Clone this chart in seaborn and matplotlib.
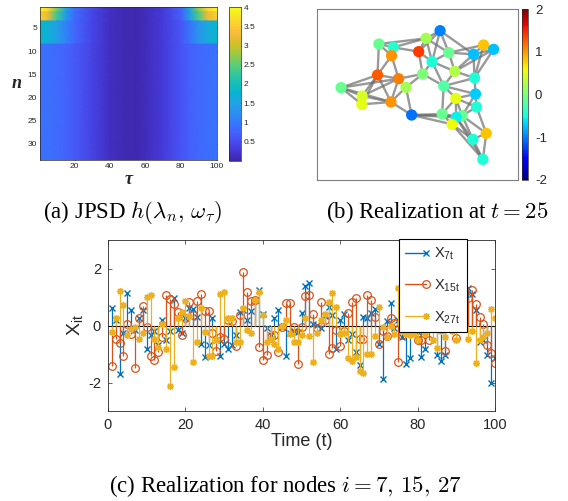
import numpy as np
import matplotlib
matplotlib.use('Agg')
import matplotlib.pyplot as plt
from matplotlib.colors import LinearSegmentedColormap, Normalize
from matplotlib.lines import Line2D
from matplotlib.legend_handler import HandlerLine2D
import seaborn as sns

sns.set_theme(style='ticks')
plt.rcParams['font.family'] = ['Liberation Sans', 'DejaVu Sans']
plt.rcParams['mathtext.fontset'] = 'custom'
plt.rcParams['mathtext.rm'] = 'Liberation Sans'
plt.rcParams['mathtext.it'] = 'Liberation Sans:italic'
plt.rcParams['axes.unicode_minus'] = False

# ---- (a) JPSD h(lambda_n, omega_tau): tau profiles per band of rows ----
tau_knots = [0.5, 5, 10, 15, 20, 30, 40, 50, 55, 60, 70, 80, 85, 90, 95, 100.5]
row_1 = [3.95, 3.6, 2.6, 1.5, 0.9, 0.45, 0.15, 0.05, 0.05, 0.12, 0.3, 0.75, 1.6, 2.7, 3.6, 3.95]
rows_2_3 = [3.5, 3.2, 2.3, 1.4, 0.85, 0.43, 0.15, 0.05, 0.05, 0.12, 0.3, 0.7, 1.45, 2.4, 3.2, 3.5]
rows_4_8 = [1.8, 1.7, 1.45, 1.1, 0.8, 0.42, 0.15, 0.05, 0.05, 0.12, 0.3, 0.62, 0.95, 1.3, 1.6, 1.8]
rows_9_33 = [0.92, 0.9, 0.85, 0.78, 0.66, 0.4, 0.15, 0.05, 0.05, 0.12, 0.3, 0.58, 0.72, 0.82, 0.88, 0.92]
band_counts = [1, 2, 5, 25]
cbar_a_ticks = [0.5, 1, 1.5, 2, 2.5, 3, 3.5, 4]

# ---- (b) graph realization at t = 25 ----
node_x = [450, 408, 267, 310, 386, 476, 580, 610, 550, 305, 426, 494, 263, 326, 398, 553, 154,
          348, 461, 217, 556, 497, 216, 303, 559, 365, 456, 516, 498, 486, 588, 548, 578]
node_y = [92, 115, 132, 142, 155, 158, 135, 148, 163, 167, 185, 214, 225, 236, 222, 234, 263,
          262, 258, 288, 282, 295, 313, 306, 321, 345, 342, 347, 352, 373, 400, 418, 478]
node_val = [-1.0, 0.2, -0.1, -0.4, 1.4, -0.1, 0.8, -0.75, -0.75, 1.0, -0.45, 0.25, 1.25, 1.1,
            0.0, -0.45, -0.1, 0.2, -0.2, 0.45, -0.7, 0.5, 0.5, 1.0, -0.45, -1.05, -0.1, -0.1,
            -0.55, 0.55, 0.8, -0.45, -0.45]
edges = [(1, 2), (1, 6), (1, 9), (1, 11), (1, 5), (2, 5), (2, 3), (2, 4), (2, 6), (2, 11),
         (3, 4), (3, 10), (3, 13), (4, 10), (4, 5), (5, 11), (5, 15), (6, 9), (6, 7), (6, 11),
         (6, 12), (7, 8), (7, 9), (7, 16), (8, 9), (8, 16), (8, 12), (9, 12), (9, 16), (10, 13),
         (10, 14), (11, 12), (11, 15), (11, 19), (12, 16), (12, 19), (13, 14), (13, 17), (13, 20),
         (13, 23), (13, 24), (14, 18), (14, 15), (14, 24), (14, 20), (14, 17), (15, 18), (15, 19),
         (16, 21), (16, 19), (17, 20), (17, 23), (17, 24), (18, 24), (18, 26), (19, 21), (19, 22),
         (19, 27), (20, 23), (20, 24), (21, 22), (21, 25), (21, 28), (22, 25), (22, 27), (22, 28),
         (22, 29), (23, 24), (24, 26), (26, 27), (26, 29), (26, 30), (26, 28), (27, 29), (27, 30),
         (28, 29), (28, 31), (28, 32), (25, 31), (25, 28), (29, 30), (29, 32), (29, 33), (30, 32),
         (30, 33), (31, 32), (31, 33), (32, 33)]

# ---- (c) realizations for nodes 7, 15, 27 ----
x7 = [0.62, 0.19, -1.69, -0.26, 1.13, 0.53, -0.16, 0.25, 0.54, -0.81,
      -0.34, -0.19, -0.7, 0.19, -0.52, -0.19, 0.95, -0.16, -0.28, 0.28,
      0.6, 0.58, 0.3, -0.64, -1.1, -0.7, 0.28, -0.52, -1.08, -0.66,
      -0.81, -0.7, -0.35, 0.48, 0.54, 0.21, 0.52, 0.89, 1.24, 0.4,
      -0.1, -0.32, 0.26, 0.56, -0.05, -1.06, -0.25, -0.2, -0.22, 0.45,
      1.37, 1.48, 0.06, 0.02, -0.1, 0.35, 0.66, 0.36, -0.81, 0.21,
      0.42, -0.5, -0.3, -0.93, -1.4, 0.3, 0.28, 0.45, 0.58, -0.64,
      -1.89, 0.15, 0.8, -0.1, 0.2, -0.4, -1.36, -1.14, 0.3, -0.22,
      -1.1, -0.81, 0.4, 0.5, -1.05, -1.26, -1.05, 0.3, 0.5, 0.2,
      0.6, 0.8, 1.3, 1.1, 0.56, -0.58, -0.5, -1.05, -2.01, -1.14]
x15 = [-1.43, -0.47, -0.63, -1.07, 0.06, -0.3, -1.48, 0.27, 0.67, -0.07,
       -1.08, -1.2, -0.94, -0.4, 1.07, 0.93, 0.75, 0.47, -0.34, 0.26,
       0.84, 0.36, 0.85, 1.1, 0.52, 0.52, -0.25, -0.88, -0.42, -0.48,
       0.19, 0.16, -0.72, 0.36, 1.87, 1.18, 0.87, 0.89, -0.75, -1.22,
       -1.05, -0.4, -0.32, -0.93, -0.05, 0.78, 0.78, -0.06, -1.34, -0.06,
       1.04, 1.08, 0.42, -0.1, 0.84, 0.21, -1.0, -0.78, -0.17, -0.73,
       -0.2, 0.45, 0.84, 0.95, -0.46, -0.46, 1.07, 0.9, 0.3, -0.66,
       -0.2, -0.38, 0.28, 0.1, -1.28, -0.35, 0.4, 0.6, 0.2, -0.5,
       -0.5, 0.3, -0.5, 0.5, 0.3, 0.4, -0.91, 0.2, 0.5, -0.44,
       0.3, 0.6, 0.95, 1.25, 0.74, 0.3, 0.05, -0.7, -0.97, -1.3]
x27 = [-0.22, 0.27, 1.21, 0.71, -0.34, -0.14, -0.05, -0.46, -0.28, 1.01,
       1.07, -0.46, -0.75, 0.05, -0.81, -2.12, -1.46, 0.25, 0.48, 0.87,
       0.35, -1.29, -0.59, 0.6, -0.22, -1.08, -1.08, -0.52, 1.1, 1.18,
       0.27, 0.28, -0.58, -0.58, 0.62, -0.16, -0.28, 0.89, 1.16, 0.38,
       -0.58, -0.46, -0.64, -0.81, 0.0, 0.21, -0.3, -0.59, -0.59, -0.35,
       0.28, -0.38, -1.29, -0.26, 0.21, 0.42, 0.84, 1.15, 0.64, -0.3,
       -0.28, -1.13, -1.26, -1.1, -1.58, -1.67, -1.01, -1.01, -0.38, 0.64,
       -0.07, -0.4, 0.0, -0.3, 1.3, -0.2, -0.3, -0.34, -0.3, -0.5,
       0.2, -0.3, 0.4, -0.5, -0.8, -0.2, -0.4, 0.3, -0.2, -0.52,
       0.3, 0.5, -0.47, -0.2, -1.31, -0.52, -0.4, -0.25, 0.57, 0.27]
series_labels = [r'X$_{\mathrm{7t}}$', r'X$_{\mathrm{15t}}$', r'X$_{\mathrm{27t}}$']

# MATLAB parula, every 4th entry of the 64-colour table
parula_rgb = [(0.2422, 0.1504, 0.6603), (0.2706, 0.2147, 0.8364), (0.2813, 0.3006, 0.9414),
              (0.2699, 0.3892, 0.9906), (0.1963, 0.4847, 0.9892), (0.1687, 0.5703, 0.9359),
              (0.1248, 0.6459, 0.8883), (0.0297, 0.7082, 0.8163), (0.0964, 0.7500, 0.7120),
              (0.2161, 0.7843, 0.5923), (0.3909, 0.8029, 0.4354), (0.6174, 0.7876, 0.2612),
              (0.8203, 0.7498, 0.1535), (0.9728, 0.7298, 0.2394), (0.9892, 0.8136, 0.1885),
              (0.9597, 0.9135, 0.1423), (0.9769, 0.9839, 0.0805)]
parula_pos = [i / 63 for i in range(0, 64, 4)] + [1.0]
parula = LinearSegmentedColormap.from_list('parula', list(zip(parula_pos, parula_rgb)))
jet = plt.get_cmap('jet')


class EndMarkerHandler(HandlerLine2D):
    # MATLAB-style stem legend: line with the marker at its right end
    def create_artists(self, legend, orig_handle, xdescent, ydescent, width, height,
                       fontsize, trans):
        y = (height - ydescent) / 2
        line = Line2D([-xdescent, width - xdescent], [y, y])
        line.update_from(orig_handle)
        line.set_marker('None')
        mark = Line2D([width - xdescent], [y])
        mark.update_from(orig_handle)
        mark.set_linestyle('None')
        line.set_transform(trans)
        mark.set_transform(trans)
        return [line, mark]


fig = plt.figure(figsize=(5.68, 5.01), dpi=100)
W, H = 568, 501


def box(l, t, r, b):
    return [l / W, 1 - b / H, (r - l) / W, (b - t) / H]


dark = '#262626'

# (a)
ax_a = fig.add_axes(box(40, 7, 217, 160))
cax_a = fig.add_axes(box(229, 7, 241, 161))
band_edges = 0.5 + np.concatenate([[0], np.cumsum(band_counts)])
mesh = None
for k, prof in enumerate([row_1, rows_2_3, rows_4_8, rows_9_33]):
    mesh = ax_a.pcolormesh(tau_knots, band_edges[k:k + 2], np.array([prof, prof]),
                           shading='gouraud', cmap=parula, vmin=0, vmax=4)
ax_a.set_xlim(0.5, 100.5)
ax_a.set_ylim(band_edges[-1], band_edges[0])
ax_a.set_xticks([20, 40, 60, 80, 100])
ax_a.set_yticks([5, 10, 15, 20, 25, 30])
ax_a.tick_params(direction='in', length=2, width=0.5, labelsize=6, colors=dark,
                 top=True, right=True, pad=2)
for s in ax_a.spines.values():
    s.set_linewidth(0.5)
    s.set_color(dark)
ax_a.set_xlabel('τ', fontfamily='Liberation Serif', fontweight='bold', fontstyle='italic',
                fontsize=13, labelpad=1)
ax_a.set_ylabel('n', fontfamily='Liberation Serif', fontweight='bold', fontstyle='italic',
                fontsize=13, rotation=0, labelpad=8, va='center')
cb_a = fig.colorbar(mesh, cax=cax_a, ticks=cbar_a_ticks)
cb_a.ax.set_yticklabels([f'{v:g}' for v in cbar_a_ticks])
cb_a.ax.tick_params(direction='in', length=2, width=0.5, labelsize=6, colors=dark, pad=2)
cb_a.outline.set_linewidth(0.5)

# (b)
ax_b = fig.add_axes(box(317, 9, 518, 180))
cax_b = fig.add_axes(box(522, 9, 528, 180))
for i, j in edges:
    ax_b.plot([node_x[i - 1], node_x[j - 1]], [node_y[i - 1], node_y[j - 1]],
              color='#6e6e6e', lw=1.7, alpha=0.7, zorder=1, solid_capstyle='round')
sns.scatterplot(x=node_x, y=node_y, hue=node_val, palette=jet, hue_norm=(-2, 2),
                s=66, linewidth=0, legend=False, ax=ax_b, zorder=2)
ax_b.set_xlim(82, 683)
ax_b.set_ylim(540, 27)
ax_b.set_xticks([])
ax_b.set_yticks([])
for s in ax_b.spines.values():
    s.set_linewidth(0.8)
    s.set_color('#7f7f7f')
sm = plt.cm.ScalarMappable(norm=Normalize(-2, 2), cmap=jet)
cb_b = fig.colorbar(sm, cax=cax_b, ticks=[-2, -1, 0, 1, 2])
cb_b.ax.tick_params(length=0, labelsize=9.5, colors=dark, pad=5)
cb_b.outline.set_linewidth(0.5)

# (c)
ax_c = fig.add_axes(box(108, 240, 495, 411))
t = np.arange(1, len(x7) + 1)
styles = [(x7, '#0072BD', 'x', 4.0, 1.0, '#0072BD'),
          (x15, '#D95319', 'o', 5.5, 0.9, 'none'),
          (x27, '#EDB120', (8, 2, 0), 5.0, 1.0, '#EDB120')]
handles = []
for (vals, col, mk, ms, mew, mfc), lab in zip(styles, series_labels):
    ml, sl, bl = ax_c.stem(t, vals, basefmt=' ')
    sl.set_color(col)
    sl.set_linewidth(0.9)
    ml.set_color(col)
    ml.set_marker(mk)
    ml.set_markersize(ms)
    ml.set_markeredgewidth(mew)
    ml.set_markerfacecolor(mfc)
    handles.append(Line2D([0], [0], color=col, lw=1.0, marker=mk, ms=ms, mew=mew,
                          mfc=mfc, label=lab))
ax_c.axhline(0, color='black', lw=0.8, zorder=1)
ax_c.set_xlim(0, 100)
ax_c.set_ylim(-3, 3)
ax_c.set_xticks([0, 20, 40, 60, 80, 100])
ax_c.set_yticks([-2, 0, 2])
ax_c.tick_params(direction='in', length=3, width=0.5, labelsize=10.5, colors=dark,
                 top=True, right=True, pad=5)
for s in ax_c.spines.values():
    s.set_linewidth(0.6)
    s.set_color(dark)
ax_c.set_xlabel('Time (t)', fontsize=13, color=dark, labelpad=1)
ax_c.set_ylabel(r'X$_{\mathrm{it}}$', fontsize=14, color=dark, labelpad=2)
leg = ax_c.legend(handles=handles, handler_map={Line2D: EndMarkerHandler()},
                  loc='upper left', bbox_to_anchor=(0.751, 1.005),
                  fontsize=10.5, frameon=True, fancybox=False,
                  edgecolor='black', framealpha=1, handlelength=1.4, handletextpad=0.6,
                  labelspacing=1.05, borderpad=0.45, borderaxespad=0)
leg.get_frame().set_linewidth(0.8)

# captions
cap = dict(fontfamily='Liberation Serif', fontsize=16.5, math_fontfamily='cm',
           ha='center', va='baseline', color='black')
fig.text(133 / W, 1 - 218 / H, r'(a) JPSD $h(\lambda_n,\,\omega_\tau)$', **cap)
fig.text(437 / W, 1 - 218 / H, r'(b) Realization at $t=25$', **cap)
fig.text(285 / W, 1 - 492 / H, r'(c) Realization for nodes $i=7,\,15,\,27$', **cap)

fig.savefig('out.png', dpi=100)
